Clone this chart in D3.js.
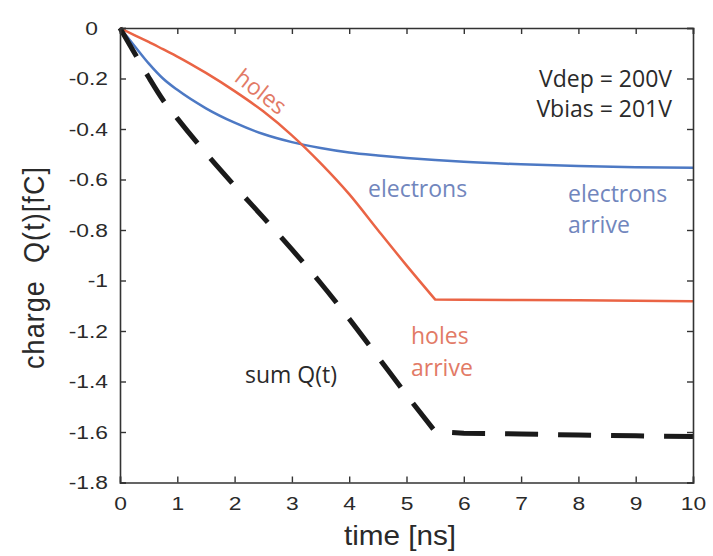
<!DOCTYPE html>
<html>
<head>
<meta charset="utf-8">
<script src="https://cdn.jsdelivr.net/npm/d3@7"></script>
<style>
  body { margin: 0; background: #fff; }
  svg { display: block; }
</style>
</head>
<body>
<svg id="chart" width="713" height="556"></svg>
<script>
// Induced charge on the readout electrode versus time (Vdep = 200 V, Vbias = 201 V)
const times     = [0, 0.25, 0.5, 0.75, 1, 1.5, 2, 2.5, 3, 3.5, 4, 4.5, 5, 5.5, 6, 7, 8, 9, 10];
const electrons = [0, -0.07, -0.14, -0.2, -0.245, -0.318, -0.375, -0.42, -0.452, -0.475, -0.493, -0.505, -0.515, -0.523, -0.53, -0.54, -0.547, -0.551, -0.553];
const holes     = [0, -0.028, -0.055, -0.084, -0.113, -0.178, -0.25, -0.33, -0.425, -0.535, -0.658, -0.8, -0.94, -1.075, -1.076, -1.077, -1.078, -1.08, -1.082];
const sumQ      = [0, -0.098, -0.195, -0.285, -0.358, -0.496, -0.625, -0.75, -0.877, -1.01, -1.152, -1.302, -1.453, -1.598, -1.605, -1.608, -1.612, -1.615, -1.618];
// index of the time at which the holes reach the electrode
const arrivalIndex = 13;

const xTicks = [0, 1, 2, 3, 4, 5, 6, 7, 8, 9, 10];
const yTicks = [0, -0.2, -0.4, -0.6, -0.8, -1, -1.2, -1.4, -1.6, -1.8];

const svg = d3.select("#chart");
const plot = { left: 120, right: 693, top: 28, bottom: 482.5 };
const tickStretch = 1.2;   // wide lettering of the tick labels
const titleStretch = 1.1;

const x = d3.scaleLinear().domain([0, 10]).range([plot.left, plot.right]);
const y = d3.scaleLinear().domain([0, -1.8]).range([plot.top, plot.bottom]);

const axisFont = "'Liberation Sans', Arial, sans-serif";
const noteFont = "'Open Sans', 'Noto Sans', sans-serif";

// smooth drift phase, then straight plateau after arrival
const pts = vals => vals.map((v, i) => [x(times[i]), y(v)]);
const smooth = d3.line().curve(d3.curveMonotoneX);
const straight = d3.line();
const pathOf = vals => {
  const p = pts(vals);
  return smooth(p.slice(0, arrivalIndex + 1)) + straight(p.slice(arrivalIndex)).replace(/^M/, "L");
};

svg.append("path").attr("d", smooth(pts(electrons)))
  .attr("fill", "none").attr("stroke", "#4d79c4").attr("stroke-width", 2.5);
svg.append("path").attr("d", pathOf(holes))
  .attr("fill", "none").attr("stroke", "#ea6445").attr("stroke-width", 2.5);
svg.append("path").attr("d", pathOf(sumQ))
  .attr("fill", "none").attr("stroke", "#1a1a1a").attr("stroke-width", 5)
  .attr("stroke-dasharray", "33 20");

// frame with inward ticks on all sides
const axisColor = "#333";
const gx = svg.append("g").attr("transform", `translate(0,${plot.bottom})`)
  .call(d3.axisBottom(x).tickValues(xTicks).tickSize(-6).tickPadding(14.5).tickFormat(d3.format("d")));
const gxt = svg.append("g").attr("transform", `translate(0,${plot.top})`)
  .call(d3.axisTop(x).tickValues(xTicks).tickSize(-6).tickFormat(""));
const gy = svg.append("g").attr("transform", `translate(${plot.left},0)`)
  .call(d3.axisLeft(y).tickValues(yTicks).tickSize(-6).tickPadding(12).tickFormat(d => String(d)));
const gyr = svg.append("g").attr("transform", `translate(${plot.right},0)`)
  .call(d3.axisRight(y).tickValues(yTicks).tickSize(-6).tickFormat(""));

[gx, gxt, gy, gyr].forEach(g => {
  g.select(".domain").attr("stroke", axisColor).attr("stroke-width", 1.6);
  g.selectAll(".tick line").attr("stroke", axisColor).attr("stroke-width", 1.4);
  g.selectAll(".tick text").attr("fill", "#2a2a2a").style("font-family", axisFont).style("font-size", "19px");
});
gx.selectAll(".tick text").attr("transform", `scale(${tickStretch},1)`);
gy.selectAll(".tick text")
  .attr("x", d => (d === 0 ? -22 : -12) / tickStretch)
  .attr("transform", `scale(${tickStretch},1)`);

// axis titles
svg.append("text")
  .attr("transform", `translate(400,545) scale(${titleStretch},1)`)
  .attr("text-anchor", "middle").attr("fill", "#2a2a2a")
  .style("font-family", axisFont).style("font-size", "27px")
  .text("time [ns]");
svg.append("text")
  .attr("transform", `translate(44,268) scale(${titleStretch},1) rotate(-90)`)
  .attr("text-anchor", "middle").attr("fill", "#2a2a2a")
  .attr("textLength", 202).attr("lengthAdjust", "spacing")
  .style("font-family", axisFont).style("font-size", "27px")
  .style("white-space", "pre")
  .text("charge  Q(t)[fC]");

// annotations
const note = (tx, ty, txt, color, anchor = "start") =>
  svg.append("text").attr("x", tx).attr("y", ty).attr("text-anchor", anchor)
    .attr("fill", color).style("font-family", noteFont).style("font-size", "23px").text(txt);

note(672, 87, "Vdep = 200V", "#2a2a2a", "end");
note(672, 117, "Vbias = 201V", "#2a2a2a", "end");
note(368, 197, "electrons", "#7186bd");
note(568, 202, "electrons", "#7186bd");
note(568, 233, "arrive", "#7186bd");
note(411, 344, "holes", "#e27a66");
note(411, 376, "arrive", "#e27a66");
note(245, 383, "sum Q(t)", "#2a2a2a");

svg.append("text")
  .attr("transform", "translate(256,98) rotate(38)")
  .attr("text-anchor", "middle")
  .attr("fill", "#e27a66").style("font-family", noteFont).style("font-size", "23px")
  .text("holes");
</script>
</body>
</html>
